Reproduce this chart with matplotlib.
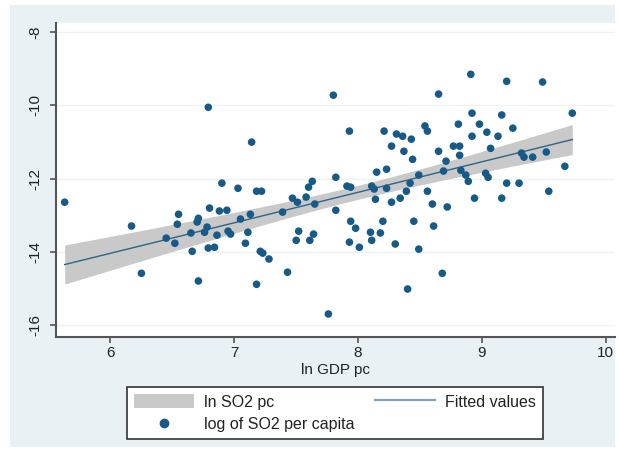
import numpy as np
import matplotlib
matplotlib.use("Agg")
import matplotlib.pyplot as plt
from matplotlib.patches import Rectangle
from matplotlib.lines import Line2D

plt.rcParams['font.family'] = ['Liberation Sans', 'DejaVu Sans']

# ln GDP per capita and log SO2 per capita for each country
ln_gdp_pc = [
    5.63, 6.79, 7.14, 6.90, 7.03, 7.18, 7.22, 7.60, 7.63, 7.47,
    7.51, 7.58, 7.65, 6.17, 6.55, 6.54, 6.70, 6.71, 6.80, 6.88,
    6.94, 7.05, 7.13, 6.78, 6.76, 6.65, 6.86, 6.95, 6.97, 7.11,
    6.45, 6.52, 7.09, 6.66, 6.79, 6.84, 6.25, 6.71, 7.80, 7.93,
    8.21, 8.31, 8.36, 8.43, 8.54, 8.56, 8.27, 8.37, 8.44, 8.15,
    8.23, 7.82, 8.49, 7.91, 7.94, 8.11, 8.13, 8.23, 8.42, 8.39,
    8.56, 8.14, 8.27, 8.34, 7.82, 7.39, 7.21, 7.23, 7.28, 7.43,
    7.18, 7.76, 7.52, 7.50, 7.64, 7.61, 7.94, 7.98, 7.93, 8.01,
    8.10, 8.11, 8.18, 8.20, 8.30, 8.45, 8.49, 8.40, 8.60, 8.91,
    9.20, 9.49, 8.65, 9.73, 8.92, 9.16, 8.81, 8.98, 9.04, 8.92,
    9.13, 9.25, 8.77, 8.82, 8.65, 8.82, 9.07, 8.71, 8.69, 8.83,
    8.87, 8.89, 9.03, 9.05, 9.32, 9.34, 9.41, 9.52, 9.67, 9.20,
    9.30, 9.54, 8.94, 9.16, 8.72, 8.61, 8.68,
]
ln_so2_pc = [
    -12.64, -10.05, -11.00, -12.12, -12.26, -12.34, -12.34, -12.23, -12.07, -12.53,
    -12.64, -12.50, -12.69, -13.29, -12.97, -13.24, -13.18, -13.08, -12.80, -12.88,
    -12.86, -13.10, -12.97, -13.32, -13.46, -13.48, -13.54, -13.43, -13.51, -13.46,
    -13.62, -13.76, -13.76, -13.98, -13.89, -13.87, -14.58, -14.79, -9.72, -10.70,
    -10.70, -10.78, -10.84, -10.92, -10.56, -10.70, -11.11, -11.25, -11.47, -11.82,
    -11.74, -11.96, -11.90, -12.20, -12.23, -12.20, -12.28, -12.26, -12.12, -12.34,
    -12.34, -12.56, -12.64, -12.53, -12.86, -12.91, -13.98, -14.03, -14.19, -14.55,
    -14.88, -15.69, -13.43, -13.68, -13.51, -13.68, -13.16, -13.35, -13.73, -13.87,
    -13.46, -13.68, -13.48, -13.16, -13.78, -13.16, -13.92, -15.01, -12.69, -9.15,
    -9.34, -9.36, -9.69, -10.21, -10.21, -10.26, -10.51, -10.51, -10.73, -10.84,
    -10.84, -10.62, -11.11, -11.11, -11.25, -11.36, -11.17, -11.52, -11.79, -11.77,
    -11.90, -12.07, -11.85, -11.96, -11.30, -11.41, -11.41, -11.27, -11.66, -12.12,
    -12.12, -12.34, -12.53, -12.53, -12.77, -13.29, -14.58,
]

x_ticks = [6, 7, 8, 9, 10]
y_ticks = [-16, -14, -12, -10, -8]

label_band = "ln SO2 pc"
label_fit = "Fitted values"
label_points = "log of SO2 per capita"
x_title = "ln GDP pc"

x = np.asarray(ln_gdp_pc)
y = np.asarray(ln_so2_pc)

# Linear fit with 95% confidence interval of the mean prediction
n = len(x)
slope, intercept = np.polyfit(x, y, 1)
resid = y - (intercept + slope * x)
s = np.sqrt(np.sum(resid ** 2) / (n - 2))
xbar = x.mean()
sxx = np.sum((x - xbar) ** 2)
t_crit = 1.979
xg = np.linspace(x.min(), x.max(), 200)
yg = intercept + slope * xg
half = t_crit * s * np.sqrt(1.0 / n + (xg - xbar) ** 2 / sxx)

W, H = 619, 455
fig = plt.figure(figsize=(W / 100, H / 100), dpi=100, facecolor='white')

# light bluish graph region
fig.patches.append(Rectangle((10 / W, 1 - 447 / H), (615 - 10) / W, (447 - 5) / H,
                             transform=fig.transFigure, facecolor='#E9F1F4',
                             edgecolor='none', zorder=-10))

ax_left, ax_right, ax_top, ax_bottom = 56, 615, 23, 336.7
ax = fig.add_axes([ax_left / W, 1 - ax_bottom / H,
                   (ax_right - ax_left) / W, (ax_bottom - ax_top) / H])
ax.set_facecolor('white')

band_color = '#C9C9C9'
fit_color = '#2E6584'
pt_color = '#175A87'

ax.fill_between(xg, yg - half, yg + half, color=band_color, lw=0, zorder=2)
ax.plot(xg, yg, color=fit_color, lw=1.0, zorder=3)
ax.scatter(x, y, s=30, color=pt_color, edgecolors='none', zorder=4)

ax.set_xlim(5.56, 10.075)
ax.set_ylim(-16.31, -7.75)
ax.set_xticks(x_ticks)
ax.set_yticks(y_ticks)
ax.set_xticklabels([str(v) for v in x_ticks])
ax.set_yticklabels([str(v) for v in y_ticks], rotation=90, va='center')

for side in ('top', 'right'):
    ax.spines[side].set_visible(False)
for side in ('left', 'bottom'):
    ax.spines[side].set_color('#555555')
    ax.spines[side].set_linewidth(1.5)

ax.tick_params(axis='x', direction='out', length=4, width=1.2, color='#555555',
               pad=3, labelsize=11, labelcolor='#222222')
ax.tick_params(axis='y', direction='out', length=4, width=1.2, color='#555555',
               pad=6, labelsize=11, labelcolor='#222222')

ax.yaxis.grid(True, color='#EDF2F4', lw=1.0)
ax.set_axisbelow(True)

ax.set_xlabel(x_title, fontsize=11, color='#222222')
ax.xaxis.set_label_coords(0.5, -0.106)
ax.xaxis.label.set_va('center')

handles = [
    Rectangle((0, 0), 1, 1, facecolor=band_color, edgecolor='none'),
    Line2D([], [], ls='none', marker='o', markersize=6, color=pt_color),
    Line2D([], [], color='#7FA3BA', lw=1.6),
]
labels = [label_band, label_points, label_fit]

leg = fig.legend(handles, labels, ncol=2, loc='center',
                 bbox_to_anchor=(127 / W, 1 - 439 / H, 416 / W, 52 / H),
                 mode='expand', fontsize=11.5, frameon=True, fancybox=False,
                 handlelength=3.75, handleheight=1.0, handletextpad=0.65,
                 labelspacing=0.4, borderpad=0.45, borderaxespad=0.0,
                 columnspacing=1.4)
frame = leg.get_frame()
frame.set_facecolor('white')
frame.set_edgecolor('#333333')
frame.set_linewidth(1.2)
frame.set_alpha(1.0)
for t in leg.get_texts():
    t.set_color('#222222')

fig.savefig('out.png', dpi=100, facecolor='white')
